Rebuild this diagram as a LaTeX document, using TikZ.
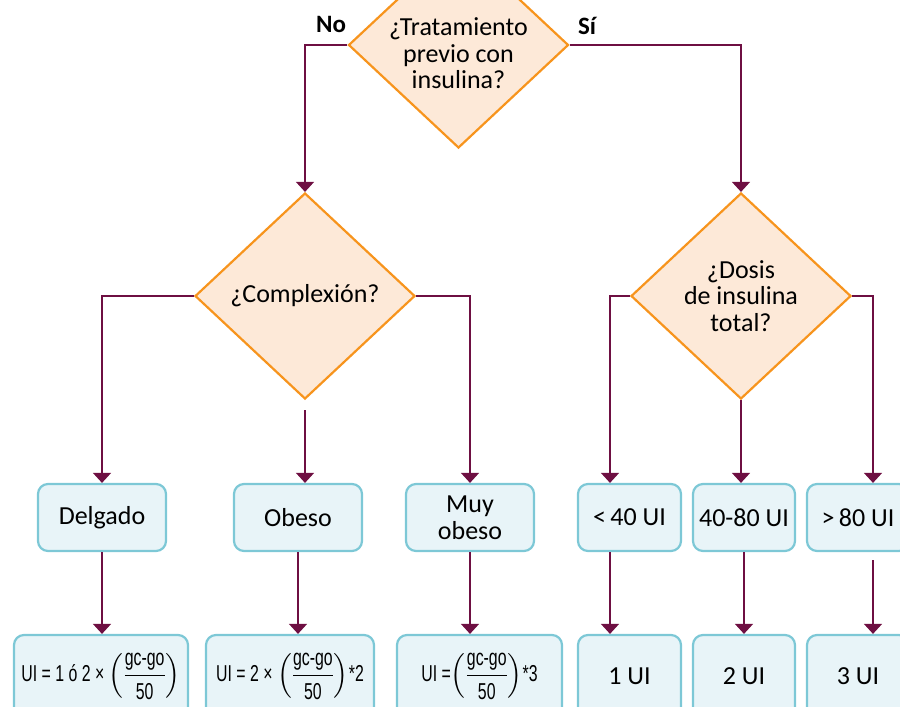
\documentclass[tikz,border=0pt]{standalone}
\usepackage{amsmath}
\usepackage{fontspec}
\setmainfont{Carlito}
\newfontfamily\formulafont[FakeStretch=0.69]{Liberation Sans}
\usepackage{tikz}
\usetikzlibrary{shapes.geometric,arrows.meta}

\definecolor{flecha}{HTML}{6E0F42}
\definecolor{rombofill}{HTML}{FDE9D8}
\definecolor{rombo}{HTML}{F7941D}
\definecolor{cajafill}{HTML}{E8F4F8}
\definecolor{cajaborde}{HTML}{7DC8D6}

\tikzset{
  decision/.style={diamond, draw=rombo, fill=rombofill, line width=2.2pt,
    minimum width=220pt, minimum height=206pt, inner sep=0pt, align=center,
    font=\fontsize{26}{26.5}\selectfont},
  qtext/.style={align=center, inner sep=0pt, font=\fontsize{26}{26.5}\selectfont},
  resp/.style={inner sep=0pt, font=\fontsize{25}{26}\selectfont\bfseries},
  caja/.style={rectangle, rounded corners=10pt, draw=cajaborde, fill=cajafill,
    line width=2.2pt, minimum height=67pt, inner sep=0pt, align=center,
    font=\fontsize{26}{26.5}\selectfont},
  formula/.style={caja, minimum height=82pt, font=\formulafont\fontsize{23}{25}\selectfont},
  conn/.style={draw=flecha, line width=1.3pt, -{Triangle[width=18pt,length=10pt]}}
}

\begin{document}
\begin{tikzpicture}[x=1pt,y=-1pt]
\useasboundingbox (0,0) rectangle (900,707);

% rombos
\node[decision] (trat) at (458.5,45) {};
\node[qtext] (tratT) at (458.5,53.5) {¿Tratamiento\\previo con\\insulina?};
\node[decision] (comp) at (305,296) {¿Complexión?};
\node[decision] (dosis) at (741,296) {¿Dosis\\de insulina\\total?};

\node[resp] (no) at (331,24) {No};
\node[resp] (si) at (587,26) {Sí};

% primera fila
\node[caja, minimum width=128pt] (delg) at (102,517.5) {Delgado};
\node[caja, minimum width=128pt] (obeso) at (298,517.5) {Obeso};
\node[caja, minimum width=128pt] (muy) at (470,517.5) {Muy\\obeso};
\node[caja, minimum width=103pt] (lt40) at (629.5,517.5) {<\,40 UI};
\node[caja, minimum width=102pt] (mid) at (744,517.5) {40-80 UI};
\node[caja, minimum width=102pt] (gt80) at (858,517.5) {>\,80 UI};

% segunda fila
\node[formula, minimum width=174pt] (f1) at (101,676) {UI = 1 ó 2 × $\left(\dfrac{\text{gc-go}}{\text{50}}\right)$};
\node[formula, minimum width=168pt] (f2) at (290,676) {UI = 2 × $\left(\dfrac{\text{gc-go}}{\text{50}}\right)$*2};
\node[formula, minimum width=165pt] (f3) at (479.5,676) {UI =$\left(\dfrac{\text{gc-go}}{\text{50}}\right)$*3};
\node[caja, minimum width=103pt, minimum height=82pt] (u1) at (629.5,676) {1 UI};
\node[caja, minimum width=102pt, minimum height=82pt] (u2) at (744,676) {2 UI};
\node[caja, minimum width=102pt, minimum height=82pt] (u3) at (858,676) {3 UI};

% conectores
\draw[conn] (trat.west) -| (comp.north);
\draw[conn] (trat.east) -| (dosis.north);
\draw[conn] (comp.west) -| (delg.north);
\draw[conn, shorten <=10pt] (comp.south) -- (comp.south |- obeso.north);
\draw[conn] (comp.east) -| (muy.north);
\draw[conn] (dosis.west) -| ([xshift=-19.5pt]lt40.north);
\draw[conn] (dosis.south) -- (dosis.south |- mid.north);
\draw[conn] (dosis.east) -| ([xshift=15pt]gt80.north);

\foreach \a/\b in {delg/f1, obeso/f2, muy/f3, mid/u2}
  \draw[conn] (\a.south) -- (\a.south |- \b.north);
\draw[conn] ([xshift=-19.5pt]lt40.south) -- ([xshift=-19.5pt]u1.north);
\draw[conn, shorten <=8pt] ([xshift=15pt]gt80.south) -- ([xshift=15pt]u3.north);

\end{tikzpicture}
\end{document}
